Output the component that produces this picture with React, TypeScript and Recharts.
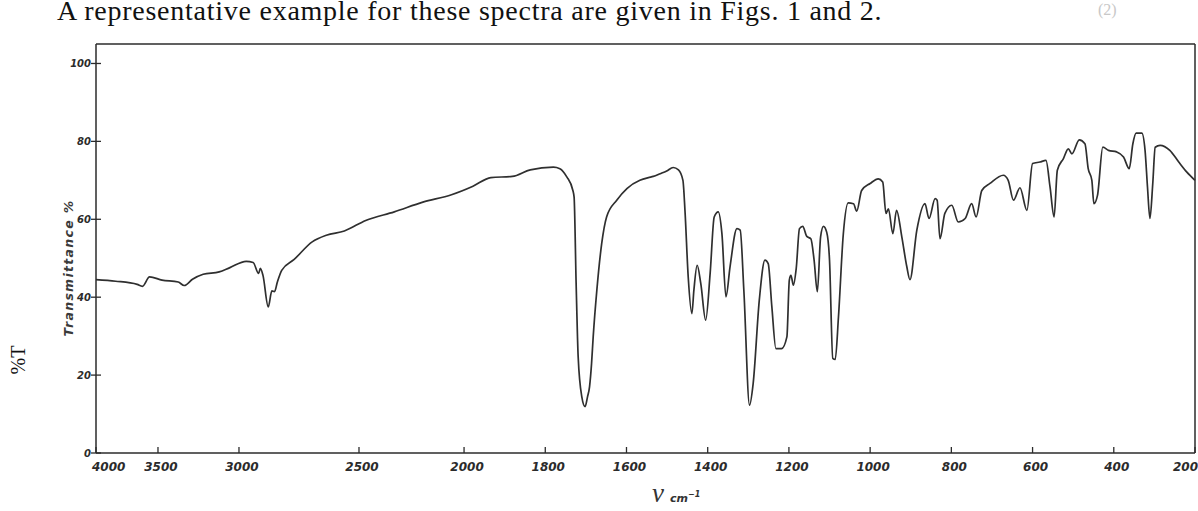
import { Line, LineChart, ReferenceLine, XAxis, YAxis } from "recharts";

// chart paper: scale changes at 2000 cm-1
const PAPER_WAVENUMBERS = [4000, 3500, 3000, 2500, 2000, 200];
const PAPER_DIVISIONS = [0, 5.64, 13.01, 23.93, 33.49, 100];

const X_TICK_LABELS = [4000, 3500, 3000, 2500, 2000, 1800, 1600, 1400, 1200, 1000, 800, 600, 400, 200];
const Y_TICKS = [0, 20, 40, 60, 80, 100];

const wavenumbers = [
  4000, 3841, 3668, 3625, 3568, 3475, 3375, 3338, 3287, 3221, 3122, 3056, 2970, 2941, 2918, 2911,
  2900, 2878, 2863, 2852, 2840, 2822, 2770, 2695, 2636, 2561, 2468, 2332, 2196, 2060, 1978, 1934,
  1881, 1837, 1780, 1764, 1747, 1732, 1729, 1724, 1719, 1710, 1702, 1696, 1691, 1686, 1682, 1673,
  1661, 1649, 1624, 1599, 1567, 1546, 1534, 1517, 1501, 1485, 1472, 1461, 1456, 1448, 1439, 1434,
  1426, 1417, 1405, 1394, 1384, 1374, 1365, 1355, 1345, 1328, 1320, 1311, 1297, 1288, 1273, 1259,
  1251, 1242, 1232, 1218, 1205, 1199, 1195, 1189, 1182, 1174, 1166, 1156, 1146, 1138, 1130, 1122,
  1115, 1107, 1100, 1092, 1086, 1078, 1066, 1054, 1041, 1033, 1021, 1000, 980, 969, 961, 955,
  944, 935, 922, 910, 902, 885, 865, 855, 840, 835, 828, 816, 799, 783, 766, 750,
  739, 725, 705, 672, 660, 647, 631, 614, 600, 582, 567, 557, 547, 539, 524, 512,
  503, 485, 471, 463, 454, 449, 440, 427, 413, 393, 376, 362, 353, 345, 331, 323,
  317, 311, 304, 298, 286, 262, 240, 220, 200,
];

const transmittance = [
  44.5, 44.1, 43.3, 42.8, 45.2, 44.4, 43.9, 43.0, 44.6, 45.9, 46.5, 47.6, 49.2, 48.9, 46.1, 47.4,
  45.6, 37.5, 41.6, 41.4, 43.9, 46.9, 49.7, 54.2, 55.9, 57.0, 59.7, 61.9, 64.4, 66.3, 68.5, 70.7,
  71.0, 72.7, 73.4, 73.0, 70.9, 67.4, 65.7, 43.5, 24.7, 14.4, 11.9, 14.4, 17.0, 23.0, 29.8, 41.8,
  53.8, 60.6, 64.9, 67.9, 70.0, 70.7, 71.0, 71.7, 72.4, 73.3, 72.7, 70.0, 62.3, 45.2, 35.8, 41.8,
  48.2, 43.5, 34.1, 46.1, 60.6, 61.9, 56.3, 40.1, 47.8, 57.6, 57.2, 41.8, 12.3, 17.9, 39.2, 49.5,
  48.6, 37.5, 26.8, 26.8, 29.8, 44.4, 45.6, 43.1, 47.4, 57.6, 58.2, 55.6, 55.0, 49.5, 41.4, 55.5,
  58.2, 56.7, 49.5, 24.3, 24.0, 34.9, 56.3, 64.2, 64.0, 62.1, 67.4, 69.2, 70.4, 69.6, 61.5, 62.7,
  56.3, 62.3, 55.5, 48.0, 44.5, 57.2, 64.0, 60.2, 65.3, 64.9, 55.0, 61.5, 63.6, 59.3, 60.2, 64.0,
  60.6, 67.4, 69.2, 71.3, 70.0, 64.9, 68.1, 62.3, 74.3, 74.7, 75.1, 68.3, 60.6, 72.6, 75.6, 78.1,
  76.8, 80.4, 79.4, 73.0, 70.0, 64.0, 66.2, 78.5, 77.7, 77.3, 76.0, 73.0, 79.4, 82.1, 82.1, 77.7,
  68.3, 60.2, 69.2, 78.5, 79.0, 77.7, 74.7, 72.1, 70.0,
];

const INK = "#2b2b2b";
const TICK_FONT = "'DejaVu Sans', sans-serif";

function toPaper(wn: number) {
  for (let i = 0; i < PAPER_WAVENUMBERS.length - 1; i++) {
    const a = PAPER_WAVENUMBERS[i];
    const b = PAPER_WAVENUMBERS[i + 1];
    if (wn <= a && wn >= b) {
      const t = (a - wn) / (a - b);
      return PAPER_DIVISIONS[i] + t * (PAPER_DIVISIONS[i + 1] - PAPER_DIVISIONS[i]);
    }
  }
  return wn > PAPER_WAVENUMBERS[0] ? 0 : 100;
}

const data = wavenumbers.map((wn, i) => ({ pos: toPaper(wn), wn, t: transmittance[i] }));
const xTicks = X_TICK_LABELS.map(toPaper);

function XTick(props: any) {
  const { x, y, index } = props;
  const first = index === 0;
  const last = index === X_TICK_LABELS.length - 1;
  return (
    <g>
      <line x1={x} x2={x} y1={y - 6} y2={y} stroke={INK} strokeWidth={1.3} />
      <text
        x={first ? x - 4 : last ? x + 3 : x + 3}
        y={y + 18}
        textAnchor={first ? "start" : last ? "end" : "middle"}
        fontFamily={TICK_FONT}
        fontStyle="italic"
        fontWeight={600}
        fontSize={12}
        fill={INK}
      >
        {X_TICK_LABELS[index]}
      </text>
    </g>
  );
}

function YTick(props: any) {
  const { x, y, payload } = props;
  return (
    <g>
      <line x1={x - 5} x2={x + 5} y1={y} y2={y} stroke={INK} strokeWidth={1.3} />
      <text
        x={x - 5}
        y={y + 3.5}
        textAnchor="end"
        fontFamily={TICK_FONT}
        fontStyle="italic"
        fontWeight={600}
        fontSize={10}
        fill={INK}
      >
        {payload.value}
      </text>
    </g>
  );
}

export default function App() {
  return (
    <div style={{ position: "absolute", left: 0, top: 0, width: 1198, height: 511, overflow: "hidden", background: "#fff" }}>
      <div
        style={{
          position: "absolute",
          left: 57,
          top: 0,
          lineHeight: "22px",
          fontFamily: "'Liberation Serif', serif",
          fontSize: 28,
          letterSpacing: 0.75,
          whiteSpace: "nowrap",
          color: "#111",
        }}
      >
        A representative example for these spectra are given in Figs. 1 and 2.
      </div>
      <div
        style={{
          position: "absolute",
          left: 1098,
          top: 1,
          fontFamily: "'Liberation Serif', serif",
          fontSize: 16,
          color: "#c8c8c8",
        }}
      >
        (2)
      </div>

      <LineChart
        width={1198}
        height={511}
        data={data}
        margin={{ top: 44, right: 3, bottom: 28, left: 56 }}
      >
        <XAxis
          dataKey="pos"
          type="number"
          domain={[0, 100]}
          ticks={xTicks}
          interval={0}
          height={30}
          tickSize={0}
          tickMargin={0}
          tickLine={false}
          axisLine={{ stroke: INK, strokeWidth: 1.5 }}
          tick={<XTick />}
        />
        <YAxis
          dataKey="t"
          type="number"
          domain={[0, 105]}
          ticks={Y_TICKS}
          interval={0}
          width={40}
          tickSize={0}
          tickMargin={0}
          tickLine={false}
          axisLine={{ stroke: INK, strokeWidth: 1.5 }}
          tick={<YTick />}
        />
        <ReferenceLine y={105} stroke={INK} strokeWidth={1.5} />
        <ReferenceLine x={100} stroke={INK} strokeWidth={1.5} />
        <Line
          type="monotone"
          dataKey="t"
          stroke="#2f2f2f"
          strokeWidth={1.7}
          dot={false}
          isAnimationActive={false}
        />
      </LineChart>

      <div
        style={{
          position: "absolute",
          left: 68,
          top: 268,
          transform: "translate(-50%, -50%) rotate(-90deg)",
          fontFamily: TICK_FONT,
          fontStyle: "italic",
          fontWeight: 600,
          fontSize: 12.5,
          letterSpacing: 1.3,
          whiteSpace: "nowrap",
          color: "#3a3a3a",
        }}
      >
        Transmittance %
      </div>
      <div
        style={{
          position: "absolute",
          left: 18,
          top: 360,
          transform: "translate(-50%, -50%) rotate(-90deg)",
          fontFamily: "'Liberation Serif', serif",
          fontSize: 20,
          whiteSpace: "nowrap",
          color: "#111",
        }}
      >
        %T
      </div>
      <div
        style={{
          position: "absolute",
          left: 652,
          top: 478,
          whiteSpace: "nowrap",
          color: "#333",
        }}
      >
        <span style={{ fontFamily: "'Liberation Serif', serif", fontStyle: "italic", fontSize: 27 }}>ν</span>
        <span style={{ fontFamily: TICK_FONT, fontStyle: "italic", fontWeight: 600, fontSize: 11, marginLeft: 6 }}>
          cm<sup style={{ fontSize: 8 }}>−1</sup>
        </span>
      </div>
    </div>
  );
}
